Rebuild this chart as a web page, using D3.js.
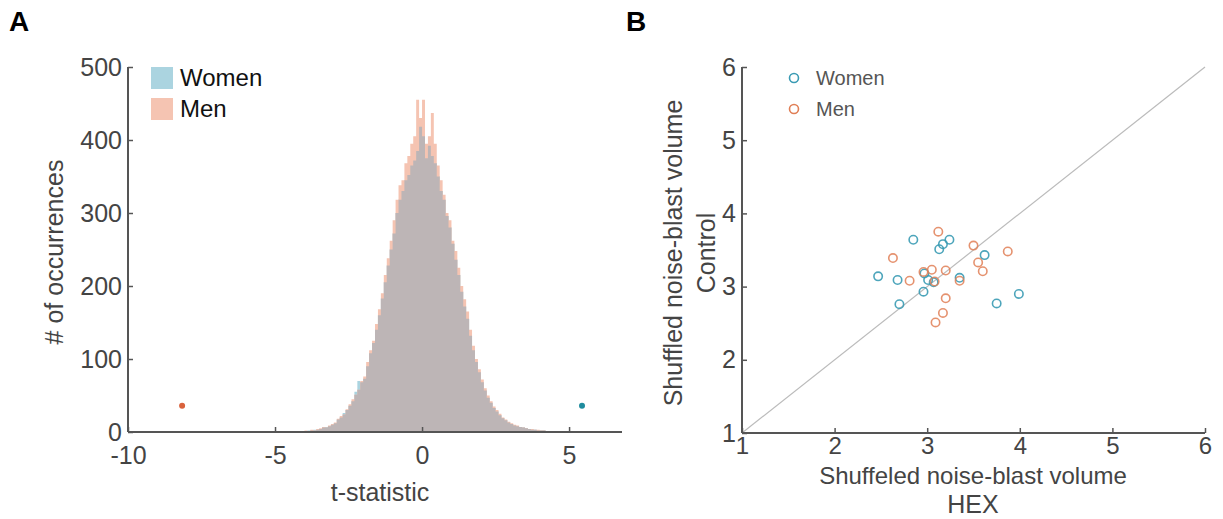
<!DOCTYPE html>
<html>
<head>
<meta charset="utf-8">
<script src="https://cdn.jsdelivr.net/npm/d3@7"></script>
<style>
  html, body { margin: 0; padding: 0; background: #fff; }
  svg { display: block; font-family: "Liberation Sans", Arial, sans-serif; }
</style>
</head>
<body>
<svg id="chart" width="1223" height="519"></svg>
<script>
// ---------------- DATA ----------------
// Panel A: histogram of permuted t-statistics (bin width 0.1, first bin left edge -4.5)
const binStart = -4.5;
const binWidth = 0.1;
const womenCounts = [
  0,0,1,1,1,1,2,2,3,3,
  4,6,7,8,10,12,17,20,26,30,
  36,42,55,70,68,73,90,108,122,140,
  160,183,205,228,250,272,300,318,330,345,
  352,365,372,385,418,405,375,392,378,368,
  350,330,318,296,280,258,236,215,192,172,
  155,132,112,96,82,68,57,47,40,33,
  28,23,19,16,13,11,9,8,7,6,
  5,4,3,3,2,2,2,1,1,1,
  0,1,0,0,0
];
const menCounts = [
  0,1,0,1,1,2,1,3,2,4,
  5,7,6,9,11,13,18,22,24,31,
  38,45,51,58,70,76,96,112,125,148,
  168,190,215,238,262,290,318,338,345,368,
  378,395,405,455,430,455,395,405,437,395,
  365,345,325,300,290,262,248,225,200,182,
  165,140,118,100,86,72,60,50,42,35,
  30,25,20,17,14,12,10,9,7,6,
  5,4,4,3,3,2,2,1,1,1,
  1,0,1,0,0
];
// observed t-statistics (dots)
const observedT = [
  { group: "Men", t: -8.16, count: 36 },
  { group: "Women", t: 5.44, count: 36 }
];
const histXTicks = [-10, -5, 0, 5];
const histYTicks = [0, 100, 200, 300, 400, 500];

// Panel B: scatter (HEX vs Control)
const womenHEX     = [2.85, 3.24, 3.17, 3.13, 2.47, 2.68, 3.01, 2.96, 2.70, 3.62, 3.99, 3.75, 3.35, 2.97, 3.07];
const womenControl = [3.64, 3.64, 3.58, 3.51, 3.14, 3.09, 3.09, 2.93, 2.76, 3.43, 2.90, 2.77, 3.12, 3.18, 3.06];
const menHEX       = [3.12, 2.63, 2.81, 3.20, 3.50, 3.87, 3.55, 3.60, 3.20, 3.17, 3.09, 3.35, 2.96, 3.05, 3.08];
const menControl   = [3.75, 3.39, 3.08, 3.22, 3.56, 3.48, 3.33, 3.21, 2.84, 2.64, 2.51, 3.08, 3.20, 3.23, 3.07];
const scatterTicks = [1, 2, 3, 4, 5, 6];

// ---------------- STYLE ----------------
const C = {
  axis: "#555",
  tickText: "#444",
  histWomen: "#abd4e0",
  histMen: "#f5c4b2",
  histOverlap: "#bdb5b6",
  dotMen: "#d9623c",
  dotWomen: "#1f8c9e",
  scWomen: "#3a9bb4",
  scMen: "#e07f56",
  diag: "#bbbbbb"
};
const fmt = d => String(d);   // plain hyphen-minus like the reference

const svg = d3.select("#chart");

// ---------------- PANEL A ----------------
const xA = d3.scaleLinear().domain([-10, 6.8]).range([128, 622]);
const yA = d3.scaleLinear().domain([0, 500]).range([432, 67]);

const bins = womenCounts.map((w, i) => ({
  x0: binStart + i * binWidth,
  x1: binStart + (i + 1) * binWidth,
  w: w,
  m: menCounts[i],
  o: Math.min(w, menCounts[i])
}));

function stepArea(key) {
  const pts = bins.map(b => ({ x: b.x0, v: b[key] }));
  pts.push({ x: bins[bins.length - 1].x1, v: bins[bins.length - 1][key] });
  return d3.area()
    .x(d => xA(d.x))
    .y0(yA(0))
    .y1(d => yA(d.v))
    .curve(d3.curveStepAfter)(pts);
}

const gA = svg.append("g");
gA.append("path").attr("d", stepArea("w")).attr("fill", C.histWomen);
gA.append("path").attr("d", stepArea("m")).attr("fill", C.histMen);
gA.append("path").attr("d", stepArea("o")).attr("fill", C.histOverlap);

// observed dots
gA.selectAll("circle.obs").data(observedT).enter().append("circle")
  .attr("class", "obs")
  .attr("cx", d => xA(d.t))
  .attr("cy", d => yA(d.count))
  .attr("r", 3)
  .attr("fill", d => d.group === "Men" ? C.dotMen : C.dotWomen);

// axes A
const axAx = gA.append("g").attr("transform", `translate(0,${yA(0)})`)
  .call(d3.axisBottom(xA).tickValues(histXTicks).tickSize(-5).tickPadding(14).tickFormat(fmt));
const axAy = gA.append("g").attr("transform", `translate(${xA(-10)},0)`)
  .call(d3.axisLeft(yA).tickValues(histYTicks).tickSize(-5).tickPadding(6).tickFormat(fmt));

function styleAxis(ax, size) {
  ax.select(".domain").attr("stroke", C.axis).attr("stroke-width", 2);
  ax.selectAll(".tick line").attr("stroke", C.axis).attr("stroke-width", 1.5);
  ax.selectAll(".tick text").attr("fill", C.tickText).attr("font-size", size);
}
styleAxis(axAx, 25);
styleAxis(axAy, 25);
axAx.select(".domain").attr("d", `M${xA(-10)},0H${xA(6.8)}`);
axAy.select(".domain").attr("d", `M0,${yA(0)}V${yA(500)}`);

// axis labels A
gA.append("text")
  .attr("transform", `translate(54,252) rotate(-90)`)
  .attr("text-anchor", "middle").attr("dy", "0.35em")
  .attr("font-size", 25).attr("fill", C.tickText)
  .text("# of occurrences");
gA.append("text")
  .attr("x", 380).attr("y", 492).attr("dy", "0.35em")
  .attr("text-anchor", "middle")
  .attr("font-size", 25).attr("fill", C.tickText)
  .text("t-statistic");

// legend A
const legA = [{ label: "Women", color: C.histWomen }, { label: "Men", color: C.histMen }];
const legAG = gA.selectAll("g.legA").data(legA).enter().append("g")
  .attr("transform", (d, i) => `translate(151,${67 + i * 31})`);
legAG.append("rect").attr("width", 22).attr("height", 22).attr("fill", d => d.color);
legAG.append("text").attr("x", 29).attr("y", 11).attr("dy", "0.35em")
  .attr("font-size", 24).attr("fill", "#111").text(d => d.label);

// panel label
svg.append("text").attr("x", 9).attr("y", 31).attr("font-size", 28)
  .attr("font-weight", "bold").attr("fill", "#000").text("A");

// ---------------- PANEL B ----------------
const xB = d3.scaleLinear().domain([1, 6]).range([742, 1205]);
const yB = d3.scaleLinear().domain([1, 6]).range([433, 67]);
const gB = svg.append("g");

// identity line
gB.append("line")
  .attr("x1", xB(1)).attr("y1", yB(1))
  .attr("x2", xB(6)).attr("y2", yB(6))
  .attr("stroke", C.diag).attr("stroke-width", 1.2);

const axBx = gB.append("g").attr("transform", `translate(0,${yB(1)})`)
  .call(d3.axisBottom(xB).tickValues(scatterTicks).tickSize(-5).tickPadding(4).tickFormat(fmt));
const axBy = gB.append("g").attr("transform", `translate(${xB(1)},0)`)
  .call(d3.axisLeft(yB).tickValues(scatterTicks).tickSize(-5).tickPadding(6).tickFormat(fmt));
styleAxis(axBx, 24);
styleAxis(axBy, 25);
axBx.select(".domain").attr("d", `M${xB(1)},0H${xB(6)}`);
axBy.select(".domain").attr("d", `M0,${yB(1)}V${yB(6)}`);

const womenPts = womenHEX.map((h, i) => ({ x: h, y: womenControl[i] }));
const menPts = menHEX.map((h, i) => ({ x: h, y: menControl[i] }));

gB.selectAll("circle.w").data(womenPts).enter().append("circle")
  .attr("class", "w")
  .attr("cx", d => xB(d.x)).attr("cy", d => yB(d.y)).attr("r", 4.2)
  .attr("fill", "none").attr("stroke", C.scWomen).attr("stroke-width", 1.6).attr("stroke-opacity", 0.9);
gB.selectAll("circle.m").data(menPts).enter().append("circle")
  .attr("class", "m")
  .attr("cx", d => xB(d.x)).attr("cy", d => yB(d.y)).attr("r", 4.2)
  .attr("fill", "none").attr("stroke", C.scMen).attr("stroke-width", 1.6).attr("stroke-opacity", 0.85);

// legend B
const legB = [{ label: "Women", color: C.scWomen }, { label: "Men", color: C.scMen }];
const legBG = gB.selectAll("g.legB").data(legB).enter().append("g")
  .attr("transform", (d, i) => `translate(794,${78 + i * 31})`);
legBG.append("circle").attr("r", 4.5).attr("fill", "none")
  .attr("stroke", d => d.color).attr("stroke-width", 1.6);
legBG.append("text").attr("x", 22).attr("y", 0).attr("dy", "0.35em")
  .attr("font-size", 20).attr("fill", "#555").text(d => d.label);

// axis labels B
gB.append("text")
  .attr("transform", `translate(673,253) rotate(-90)`)
  .attr("text-anchor", "middle").attr("dy", "0.35em")
  .attr("font-size", 25).attr("fill", C.tickText)
  .text("Shuffled noise-blast volume");
gB.append("text")
  .attr("transform", `translate(706,253) rotate(-90)`)
  .attr("text-anchor", "middle").attr("dy", "0.35em")
  .attr("font-size", 25).attr("fill", C.tickText)
  .text("Control");
gB.append("text")
  .attr("x", 973).attr("y", 476).attr("dy", "0.35em")
  .attr("text-anchor", "middle")
  .attr("font-size", 24).attr("fill", C.tickText)
  .text("Shuffeled noise-blast volume");
gB.append("text")
  .attr("x", 973).attr("y", 504).attr("dy", "0.35em")
  .attr("text-anchor", "middle")
  .attr("font-size", 25).attr("fill", C.tickText)
  .text("HEX");

svg.append("text").attr("x", 626).attr("y", 31).attr("font-size", 28)
  .attr("font-weight", "bold").attr("fill", "#000").text("B");
</script>
</body>
</html>
